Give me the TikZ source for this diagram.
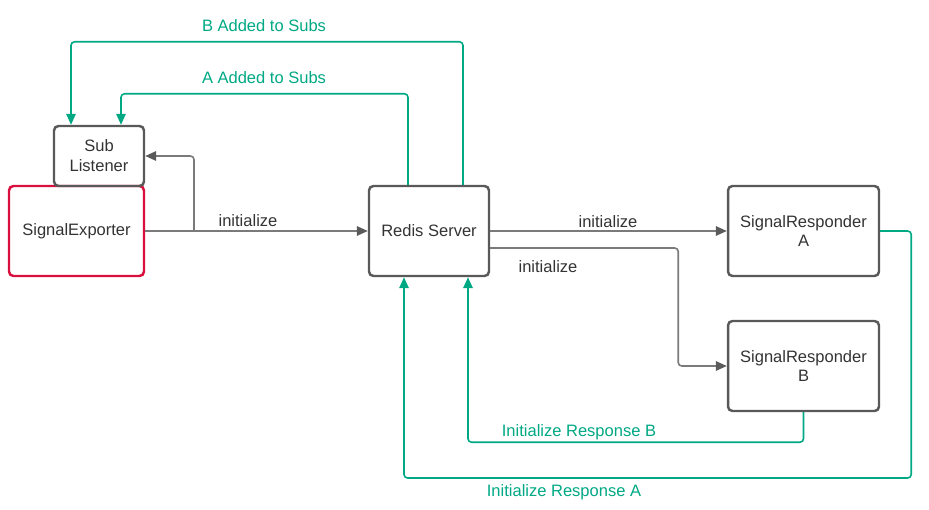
\documentclass[tikz,border=0pt]{standalone}
\usepackage{fontspec}
\setmainfont{Liberation Sans}
\usetikzlibrary{arrows.meta}
\definecolor{boxgray}{HTML}{595959}
\definecolor{linegray}{HTML}{7A7A7A}
\definecolor{tipgray}{HTML}{5A5A5A}
\definecolor{subsgreen}{HTML}{00A884}
\definecolor{exportred}{HTML}{D90F3D}
\definecolor{textgray}{HTML}{333333}
\tikzset{basic/.style={draw=boxgray,line width=1.4pt,rounded corners=2.5pt,
                       text=textgray,align=center,inner sep=0pt}}
\tikzset{service/.style={basic,minimum width=2.4cm,minimum height=1.8cm}}
\tikzset{responder/.style={basic,minimum width=3.02cm,minimum height=1.8cm}}
\tikzset{listener/.style={basic,minimum width=1.8cm,minimum height=1.2cm}}
\tikzset{exporter/.style={basic,draw=exportred,minimum width=2.7cm,minimum height=1.8cm}}
\tikzset{call/.style={draw=linegray,line width=0.9pt,rounded corners=2pt,
                      -{Triangle[length=0.22cm,width=0.19cm,color=tipgray]}}}
\tikzset{reply/.style={draw=subsgreen,line width=0.9pt,rounded corners=2pt,
                       -{Triangle[length=0.22cm,width=0.19cm]}}}
\tikzset{calltext/.style={text=textgray}}
\tikzset{replytext/.style={text=subsgreen}}

\begin{document}
\begin{tikzpicture}[x=0.02cm,y=-0.02cm,font=\fontsize{9.4}{11.3}\selectfont]
    \useasboundingbox (0,0) rectangle (929,510);
    \node[exporter] (exporter) at (76.5,231) {SignalExporter};
    \node[listener] (sub) at (99,156) {Sub\\Listener};
    \node[service] (redis) at (429,231) {Redis Server};
    \foreach \r/\y in {A/231,B/366}{%
          \node[responder] (resp\r) at (803.5,\y) {SignalResponder\\\r};
        }
    % initialize calls
    \coordinate (split) at (194,231);
    \draw[call] (exporter) -- (redis);
    \draw[call] (split) |- (sub.east);
    \draw[call] (redis.east) -- (respA.west);
    \draw[call] ([yshift=-0.34cm]redis.east) -- ++(188,0) |- (respB.west);
    % replies
    \draw[reply] ([xshift=-0.42cm]redis.north) -- ++(0,-91) -| ([xshift=0.44cm]sub.north);
    \draw[reply] ([xshift=0.68cm]redis.north) -- ++(0,-143) -| ([xshift=-0.56cm]sub.north);
    \draw[reply] (respB.south) -- ++(0,30) -| ([xshift=0.78cm]redis.south);
    \draw[reply] (respA.east) -- ++(31,0) -- ++(0,247) -| ([xshift=-0.5cm]redis.south);
    % Labels
    \node[calltext] (init1) at (248,221) {initialize};
    \node[calltext] (init2) at (608,222) {initialize};
    \node[calltext] (init3) at (548,267) {initialize};
    \node[replytext] (addB) at (264,26) {B Added to Subs};
    \node[replytext] (addA) at (264,78) {A Added to Subs};
    \node[replytext] (respBtext) at (579,432) {Initialize Response B};
    \node[replytext] (respAtext) at (564,492) {Initialize Response A};
\end{tikzpicture}
\end{document}
